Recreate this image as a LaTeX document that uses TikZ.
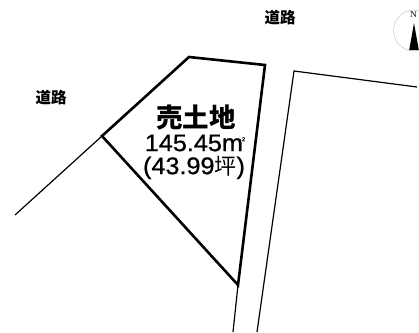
\documentclass[tikz,border=0pt]{standalone}
\usepackage{fontspec}
\setmainfont{Liberation Sans}
\newfontfamily\cjk{Noto Sans CJK JP}
\newfontfamily\digits[FakeStretch=1.05,FakeBold=0.8]{Liberation Sans}
\newfontfamily\nfont{Liberation Serif}
\tikzset{
  heavy/.style={draw=black,line width=2.6pt,line join=miter},
  thin line/.style={draw=black,line width=1.2pt},
  road/.style={font=\cjk\bfseries\fontsize{15.5}{15.5}\selectfont,inner sep=0pt},
  title/.style={font=\cjk\bfseries\fontsize{26.5}{26.5}\selectfont,inner sep=0pt},
  area/.style={font=\digits\fontsize{24}{24}\selectfont,inner sep=0pt},
}
\begin{document}
\begin{tikzpicture}[x=1pt,y=-1pt]
\useasboundingbox (0,0) rectangle (419,332);
\coordinate (a) at (189,57);
\coordinate (b) at (265,65);
\coordinate (c) at (238,285);
\coordinate (d) at (102,136);
\coordinate (e) at (15,215);
\coordinate (f) at (233,332);
\coordinate (g) at (294,71);
\coordinate (h) at (417,87);
\coordinate (i) at (257,332);
\draw[thin line] (d) -- (e);
\draw[thin line] (c) -- (f);
\draw[thin line] (h) -- (g) -- (i);
\draw[heavy] (a) -- (b) -- (c) -- (d) -- cycle;
\node[road] (r1) at (280,18) {道路};
\node[road] (r2) at (51,98) {道路};
\node[title] (t) at (196,117) {売土地};
\node[area] (m) at (195,143) {145.45m\raisebox{10pt}{\fontsize{5.5}{5.5}\selectfont\hspace{-1pt}2}};
\node[area] (p) at (194,167.5) {(43.99{\cjk\fontsize{22}{22}\selectfont 坪})};
\begin{scope}
\clip (380,0) rectangle (419,60);
\draw[gray!45,line width=0.5pt] (414,30.5) circle (20.5);
\fill[black] (414,23) -- (418.8,50) -- (409.2,50) -- cycle;
\end{scope}
\node[inner sep=0pt,font=\nfont\fontsize{9}{9}\selectfont] (n) at (413.5,15) {N};
\end{tikzpicture}
\end{document}
